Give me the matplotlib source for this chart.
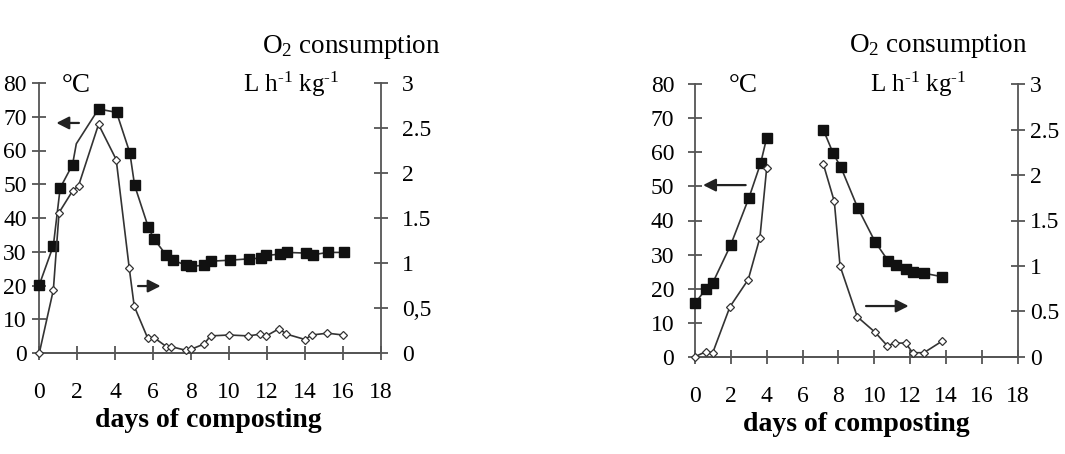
import numpy as np
import matplotlib
matplotlib.use("Agg")
import matplotlib.pyplot as plt

plt.rcParams['font.family'] = ['Liberation Serif', 'DejaVu Serif']
plt.rcParams['mathtext.fontset'] = 'custom'
plt.rcParams['mathtext.rm'] = 'Liberation Serif'
plt.rcParams['mathtext.it'] = 'Liberation Serif:italic'

# ---------------- data: left panel ----------------
left_temp_days = [0, 0.74, 1.1, 1.75, 1.95, 3.12, 4.07, 4.77, 5.02, 5.74, 6.04, 6.7, 7.02,
                  7.75, 8.0, 8.7, 9.04, 10.04, 11.05, 11.7, 11.96, 12.67, 13.05, 14.07,
                  14.4, 15.2, 16.04]
left_temp = [20.2, 31.8, 48.9, 55.8, 62.0, 72.3, 71.3, 59.3, 49.7, 37.3, 33.8, 28.9, 27.5,
             26.0, 25.7, 26.0, 27.2, 27.5, 27.9, 28.1, 28.9, 29.3, 29.8, 29.6, 29.1, 29.8, 29.8]
left_temp_unmarked = [4]

left_o2_days = [0, 0.74, 1.04, 1.75, 2.07, 3.12, 4.05, 4.74, 5.0, 5.7, 6.05, 6.7, 6.96,
                7.72, 7.98, 8.68, 9.02, 10.0, 11.02, 11.65, 11.96, 12.63, 13.02, 14.0,
                14.35, 15.18, 16.0]
left_o2 = [0, 0.70, 1.56, 1.80, 1.86, 2.54, 2.15, 0.94, 0.52, 0.17, 0.17, 0.07, 0.07,
           0.03, 0.04, 0.10, 0.19, 0.20, 0.19, 0.21, 0.19, 0.27, 0.21, 0.15, 0.20, 0.22, 0.20]

# ---------------- data: right panel ----------------
right_temp_days = [0, 0.6, 0.99, 1.99, 3.01, 3.66, 4.0, np.nan, 7.16, 7.71, 8.14, 9.07,
                   10.04, 10.78, 11.2, 11.75, 12.17, 12.79, 13.77]
right_temp = [15.7, 19.8, 21.7, 32.8, 46.7, 56.8, 64.3, np.nan, 66.6, 59.7, 55.6, 43.8,
              33.8, 28.1, 26.9, 25.8, 25.0, 24.5, 23.5]

right_o2_days = [0, 0.6, 0.99, 1.95, 2.97, 3.62, 4.0, np.nan, 7.16, 7.77, 8.09, 9.05,
                 10.04, 10.73, 11.15, 11.75, 12.14, 12.77, 13.77]
right_o2 = [0, 0.055, 0.044, 0.55, 0.85, 1.31, 2.08, np.nan, 2.12, 1.71, 1.00, 0.44,
            0.27, 0.12, 0.15, 0.15, 0.044, 0.044, 0.17]

x_ticks = [0, 2, 4, 6, 8, 10, 12, 14, 16, 18]
temp_ticks = [0, 10, 20, 30, 40, 50, 60, 70, 80]
o2_ticks = [0, 0.5, 1, 1.5, 2, 2.5, 3]
left_o2_labels = ["0", "0,5", "1", "1.5", "2", "2.5", "3"]
right_o2_labels = ["0", "0.5", "1", "1.5", "2", "2.5", "3"]

xlabel = "days of composting"
o2_title = "O$_2$ consumption"
unit_label = r"L h$^{\text{-}1}$ kg$^{\text{-}1}$"
temp_unit = "°C"

W, H = 1065, 454
fig = plt.figure(figsize=(W / 100, H / 100), dpi=100)

spine_col = "#555555"
line_col = "#333333"
FS_TICK = 17
FS_TITLE = 19.5
FS_UNIT = 18
FS_XLAB = 20


def make_panel(rect, tdays, temp, odays, o2, o2_labels, t_markevery, arrows, texts,
               xlab_pos, lpad, rpad):
    ax = fig.add_axes(rect)
    ax2 = ax.twinx()
    for a in (ax, ax2):
        a.set_xlim(0, 18)
        a.spines['top'].set_visible(False)
        for s in ('left', 'right', 'bottom'):
            a.spines[s].set_color(spine_col)
            a.spines[s].set_linewidth(1.3)
        a.patch.set_visible(False)
    ax.set_ylim(0, 80)
    ax2.set_ylim(0, 3)
    ax.spines['right'].set_visible(False)
    ax2.spines['left'].set_visible(False)

    ax.plot(tdays, temp, color=line_col, lw=1.2, marker='s', ms=7.5,
            mfc='#111111', mec='#111111', markevery=t_markevery, clip_on=False, zorder=3)
    ax2.plot(odays, o2, color=line_col, lw=1.2, marker='D', ms=4.4,
             mfc='white', mec='#333333', mew=0.9, clip_on=False, zorder=3)

    ax.set_xticks(x_ticks)
    ax.set_xticklabels([str(v) for v in x_ticks])
    ax.set_yticks(temp_ticks)
    ax.set_yticklabels([str(v) for v in temp_ticks])
    ax2.set_yticks(o2_ticks)
    ax2.set_yticklabels(o2_labels)

    ax.tick_params(axis='x', direction='inout', length=10, width=1.3, color=spine_col,
                   pad=16, labelsize=FS_TICK)
    ax.tick_params(axis='y', direction='inout', length=10, width=1.3, color=spine_col,
                   pad=lpad, labelsize=FS_TICK)
    ax2.tick_params(axis='y', direction='inout', length=10, width=1.3, color=spine_col,
                    pad=rpad, labelsize=FS_TICK)
    ax2.tick_params(axis='x', which='both', bottom=False, labelbottom=False)

    fig.text(xlab_pos[0] / W, 1 - xlab_pos[1] / H, xlabel, fontsize=FS_XLAB,
             fontweight='bold', ha='center', va='baseline')

    for (x0, y0, x1, y1) in arrows:
        ax.annotate("", xy=(x1, y1), xytext=(x0, y0), xycoords='axes fraction',
                    textcoords='axes fraction',
                    arrowprops=dict(arrowstyle='-|>,head_length=0.75,head_width=0.38',
                                    color='#222222', lw=1.6, shrinkA=0, shrinkB=0))
    for (x, y, s, fs) in texts:
        fig.text(x / W, 1 - y / H, s, fontsize=fs, ha='left', va='baseline')
    return ax, ax2


# left panel
make_panel([39.3 / W, 1 - 353 / H, (381 - 39.3) / W, 270 / H],
           left_temp_days, left_temp, left_o2_days, left_o2, left_o2_labels,
           [i for i in range(len(left_temp_days)) if i not in left_temp_unmarked],
           arrows=[(0.116, 0.852, 0.050, 0.852), (0.289, 0.248, 0.355, 0.248)],
           texts=[(262, 53, o2_title, FS_TITLE), (243, 91.7, unit_label, FS_UNIT),
                  (62, 91.7, temp_unit, FS_TITLE)],
           xlab_pos=(208.5, 427), lpad=4, rpad=10)

# right panel
make_panel([695 / W, 1 - 356.7 / H, 322.7 / W, 272.4 / H],
           right_temp_days, right_temp, right_o2_days, right_o2, right_o2_labels,
           None,
           arrows=[(0.157, 0.630, 0.025, 0.630), (0.530, 0.186, 0.662, 0.186)],
           texts=[(849, 52, o2_title, FS_TITLE), (870, 91.7, unit_label, FS_UNIT),
                  (729, 91.7, temp_unit, FS_TITLE)],
           xlab_pos=(856, 431), lpad=10, rpad=4)

fig.savefig("out.png", dpi=100)
